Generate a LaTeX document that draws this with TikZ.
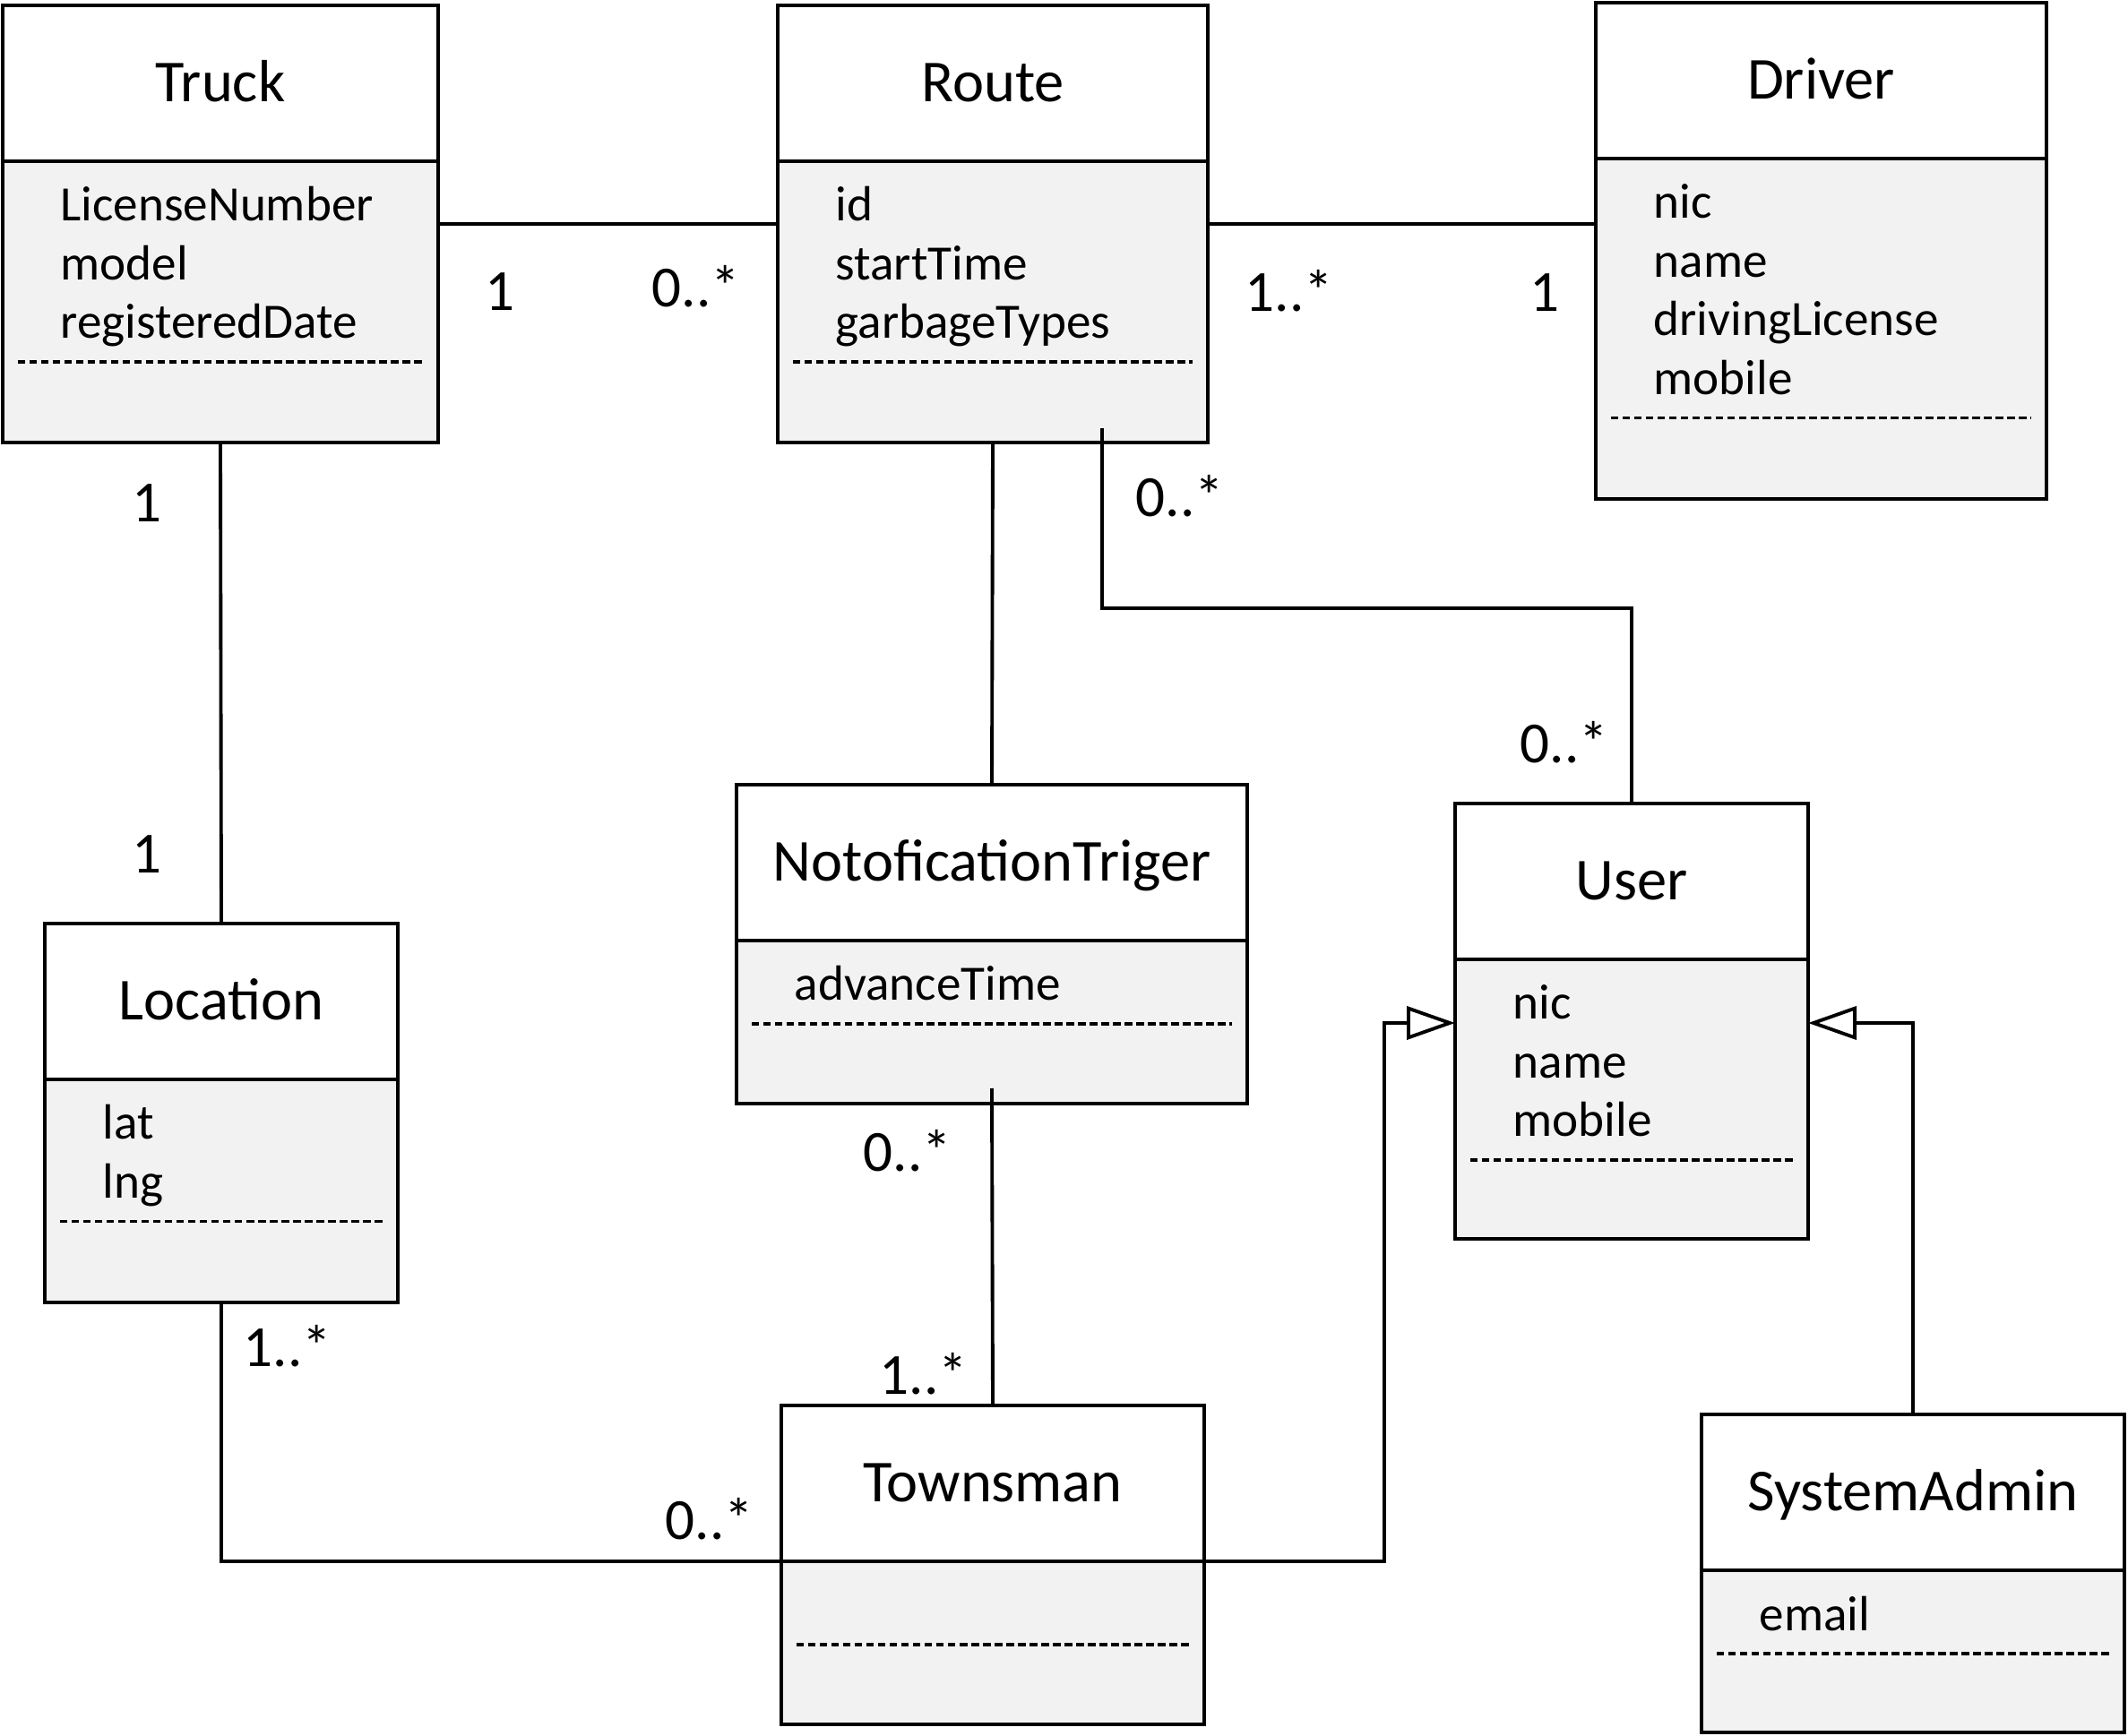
\documentclass[tikz,border=0pt]{standalone}
\usepackage{fontspec}
\setmainfont{Carlito}
\usetikzlibrary{arrows.meta,positioning}
\definecolor{attrgray}{HTML}{F2F2F2}

\begin{document}
\begin{tikzpicture}[
        head/.style={draw, line width=1.2pt, fill=white, outer sep=0pt, minimum height=1.74cm,
            font=\fontsize{18.9}{22}\selectfont, text height=11.9pt, text depth=0pt},
        body/.style={draw, line width=1.2pt, fill=attrgray, outer sep=0pt, inner sep=0pt},
        attr/.style={anchor=base west, inner sep=0pt, font=\fontsize{15.7}{18.9}\selectfont},
        sep/.style={line width=1.1pt, dash pattern=on 2.4pt off 1.3pt},
        assoc/.style={line width=1.1pt},
        gen/.style={line width=1.1pt, -{Triangle[open, length=5.4mm, width=3.7mm]}},
        mult/.style={anchor=base, inner sep=0pt, font=\fontsize{18.5}{22}\selectfont}]
        \useasboundingbox (0,0) rectangle (23.75,-19.38);

        % classes
        \node[head, minimum width=4.86cm] (truck) at (2.46,-0.93) {Truck};
        \node[body, minimum width=4.86cm, minimum height=3.14cm, below=0pt of truck] (truckbody) {};
        \node[attr] (truck1) at (0.67,-2.47) {LicenseNumber};
        \node[attr] (truck2) at (0.67,-3.125) {model};
        \node[attr] (truck3) at (0.67,-3.78) {registeredDate};
        \draw[sep] (0.20,-4.04) -- (4.72,-4.04);

        \node[head, minimum width=4.80cm] (route) at (11.08,-0.93) {Route};
        \node[body, minimum width=4.80cm, minimum height=3.14cm, below=0pt of route] (routebody) {};
        \node[attr] (route1) at (9.32,-2.47) {id};
        \node[attr] (route2) at (9.32,-3.125) {startTime};
        \node[attr] (route3) at (9.32,-3.78) {garbageTypes};
        \draw[sep] (8.85,-4.04) -- (13.31,-4.04);

        \node[head, minimum width=5.03cm] (driver) at (20.325,-0.90) {Driver};
        \node[body, minimum width=5.03cm, minimum height=3.80cm, below=0pt of driver] (driverbody) {};
        \node[attr] (driver1) at (18.45,-2.44) {nic};
        \node[attr] (driver2) at (18.45,-3.095) {name};
        \node[attr] (driver3) at (18.45,-3.75) {drivingLicense};
        \node[attr] (driver4) at (18.45,-4.405) {mobile};
        \draw[sep] (17.98,-4.665) -- (22.67,-4.665);

        \node[head, minimum width=3.94cm] (location) at (2.47,-11.18) {Location};
        \node[body, minimum width=3.94cm, minimum height=2.49cm, below=0pt of location] (locationbody) {};
        \node[attr] (location1) at (1.14,-12.72) {lat};
        \node[attr] (location2) at (1.14,-13.375) {lng};
        \draw[sep] (0.67,-13.635) -- (4.27,-13.635);

        \node[head, minimum width=5.70cm] (notif) at (11.07,-9.63) {NotoficationTriger};
        \node[body, minimum width=5.70cm, minimum height=1.82cm, below=0pt of notif] (notifbody) {};
        \node[attr] (notif1) at (8.86,-11.17) {advanceTime};
        \draw[sep] (8.39,-11.43) -- (13.75,-11.43);

        \node[head, minimum width=3.94cm] (user) at (18.21,-9.84) {User};
        \node[body, minimum width=3.94cm, minimum height=3.12cm, below=0pt of user] (userbody) {};
        \node[attr] (user1) at (16.88,-11.38) {nic};
        \node[attr] (user2) at (16.88,-12.035) {name};
        \node[attr] (user3) at (16.88,-12.69) {mobile};
        \draw[sep] (16.41,-12.95) -- (20.01,-12.95);

        \node[head, minimum width=4.72cm] (townsman) at (11.08,-16.56) {Townsman};
        \node[body, minimum width=4.72cm, minimum height=1.82cm, below=0pt of townsman] (townsmanbody) {};
        \draw[sep] (8.89,-18.36) -- (13.27,-18.36);

        \node[head, minimum width=4.72cm] (sysadmin) at (21.35,-16.66) {SystemAdmin};
        \node[body, minimum width=4.72cm, minimum height=1.81cm, below=0pt of sysadmin] (sysadminbody) {};
        \node[attr] (sysadmin1) at (19.63,-18.20) {email};
        \draw[sep] (19.16,-18.46) -- (23.54,-18.46);

        % associations
        \draw[assoc] ([yshift=-0.70cm]truckbody.north east) -- ([yshift=-0.70cm]routebody.north west);
        \draw[assoc] ([yshift=-0.70cm]routebody.north east) coordinate (rd) -- (rd -| driverbody.west);
        \draw[assoc] (truckbody.south) -- (location.north);
        \draw[assoc] (routebody.south) -- (notif.north);
        \draw[assoc] ([xshift=1.22cm,yshift=0.16cm]routebody.south) coordinate (ru)
            -- (ru |- 0,-6.79) -| (user.north);
        \draw[assoc] ([yshift=0.17cm]notifbody.south) -- (townsman.north);
        \draw[assoc] (locationbody.south) |- (townsmanbody.north west);

        % generalisations
        \draw[gen] (townsmanbody.north east) -- ++(2.01,0) |- ([yshift=-0.71cm]userbody.north west);
        \draw[gen] (sysadmin.north) |- ([yshift=-0.71cm]userbody.north east);

        % multiplicities
        \node[mult] (m1) at (5.58,-3.47) {1};
        \node[mult] (m2) at (7.77,-3.43) {0..*};
        \node[mult] (m3) at (14.39,-3.48) {1..*};
        \node[mult] (m4) at (17.24,-3.48) {1};
        \node[mult] (m5) at (1.64,-5.83) {1};
        \node[mult] (m6) at (1.64,-9.75) {1};
        \node[mult] (m7) at (13.17,-5.77) {0..*};
        \node[mult] (m8) at (17.46,-8.52) {0..*};
        \node[mult] (m9) at (10.13,-13.08) {0..*};
        \node[mult] (m10) at (10.31,-15.56) {1..*};
        \node[mult] (m11) at (3.21,-15.25) {1..*};
        \node[mult] (m12) at (7.92,-17.18) {0..*};
    \end{tikzpicture}
\end{document}
